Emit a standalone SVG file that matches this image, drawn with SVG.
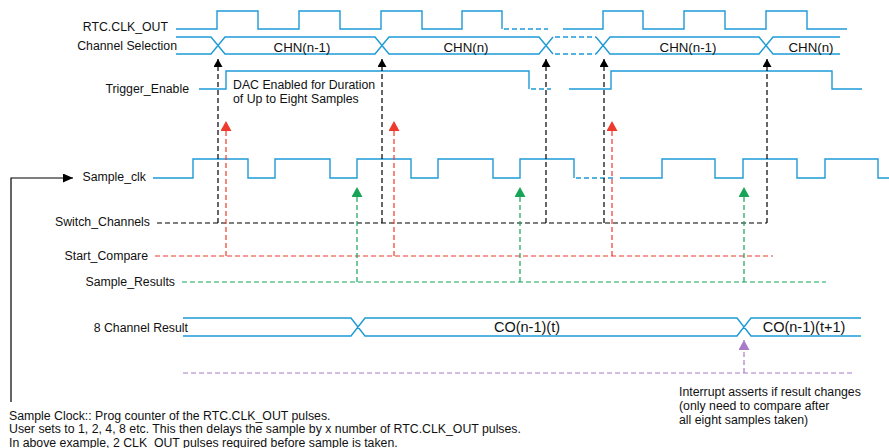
<svg xmlns="http://www.w3.org/2000/svg" width="889" height="448" viewBox="0 0 889 448">
<style>
text{font-family:"Liberation Sans",Arial,Helvetica,sans-serif;font-size:12.3px;fill:#111}
.lbl{text-anchor:end}
.mid{text-anchor:middle}
.chn{font-size:13.3px}
.co{font-size:14.5px}
.sig{fill:none;stroke:#1d9ad6;stroke-width:1.4}
.sigd{fill:none;stroke:#1d9ad6;stroke-width:1.4;stroke-dasharray:5 3}
.blk{fill:none;stroke:#000;stroke-width:1.2;stroke-dasharray:5 3}
.red{fill:none;stroke:#ee3a2c;stroke-width:1.2;stroke-dasharray:5 3}
.grn{fill:none;stroke:#16a557;stroke-width:1.2;stroke-dasharray:5 3}
.pur{fill:none;stroke:#a77cc9;stroke-width:1.2;stroke-dasharray:5 3}
</style>
<defs>
<marker id="aBlk" viewBox="0 0 8 9" markerUnits="userSpaceOnUse" markerWidth="8" markerHeight="9" refX="8" refY="4.5" orient="auto"><path d="M0,0 L8,4.5 L0,9 z" fill="#000"/></marker>
<marker id="aBlkS" viewBox="0 0 10 9" markerUnits="userSpaceOnUse" markerWidth="10" markerHeight="9" refX="10" refY="4.5" orient="auto"><path d="M0,0 L10,4.5 L0,9 z" fill="#000"/></marker>
<marker id="aRed" viewBox="0 0 10 11" markerUnits="userSpaceOnUse" markerWidth="10" markerHeight="11" refX="10" refY="5.5" orient="auto"><path d="M0,0 L10,5.5 L0,11 z" fill="#ee3a2c"/></marker>
<marker id="aGrn" viewBox="0 0 10 11" markerUnits="userSpaceOnUse" markerWidth="10" markerHeight="11" refX="10" refY="5.5" orient="auto"><path d="M0,0 L10,5.5 L0,11 z" fill="#16a557"/></marker>
<marker id="aPur" viewBox="0 0 10 11" markerUnits="userSpaceOnUse" markerWidth="10" markerHeight="11" refX="10" refY="5.5" orient="auto"><path d="M0,0 L10,5.5 L0,11 z" fill="#a77cc9"/></marker>
</defs>

<g id="rtc-clk-out">
<text class="lbl" x="168" y="30.5">RTC.CLK_OUT</text>
<path class="sig" d="M176,29 H217 V11 H258 V29 H299 V11 H340 V29 H381 V11 H422 V29 H462 V11 H502 V29"/>
<path class="sigd" d="M504,29 H548"/>
<path class="sig" d="M563,29 H603 V11 H643 V29 H684 V11 H725 V29 H766 V11 H807 V29 H847"/>
</g>

<g id="channel-selection">
<text class="lbl" x="177" y="50">Channel Selection</text>
<path class="sig" d="M176,37 H211 L225,54 H375 L389,37 H539 L553,54 M176,54 H211 L225,37 H375 L389,54 H539 L553,37"/>
<path class="sigd" d="M555,37 H596 M555,54 H596"/>
<path class="sig" d="M596,37 L610,54 H759 L773,37 H840 M596,54 L610,37 H759 L773,54 H840"/>
<text class="mid chn" x="302" y="51.5">CHN(n-1)</text>
<text class="mid chn" x="466" y="51.5">CHN(n)</text>
<text class="mid chn" x="688" y="51.5">CHN(n-1)</text>
<text class="mid chn" x="811" y="51.5">CHN(n)</text>
</g>

<g id="trigger-enable">
<text class="lbl" x="189" y="93">Trigger_Enable</text>
<path class="sig" d="M199,89 H226 V71 H529 V89"/>
<path class="sigd" d="M531,89 H551"/>
<path class="sig" d="M569,89 H611 V71 H832 V89 H862"/>
<text x="233" y="89">DAC Enabled for Duration</text>
<text x="233" y="103">of Up to Eight Samples</text>
</g>

<g id="sample-clk">
<text class="lbl" x="146" y="181">Sample_clk</text>
<path class="sig" d="M153,178 H193 V159 H248 V178 H275 V159 H330 V178 H357 V159 H411 V178 H438 V159 H493 V178 H520 V159 H574 V178"/>
<path class="sigd" d="M576,178 H615"/>
<path class="sig" d="M620,178 H662 V159 H715 V178 H743 V159 H797 V178 H825 V159 H878 V178 H889"/>
</g>

<g id="switch-channels">
<text class="lbl" x="150" y="226">Switch_Channels</text>
</g>
<g id="start-compare">
<text class="lbl" x="148" y="260">Start_Compare</text>
</g>
<g id="sample-results">
<text class="lbl" x="175" y="285.5">Sample_Results</text>
</g>

<g id="channel-result">
<text class="lbl" x="188" y="332">8 Channel Result</text>
<path class="sig" d="M183,318 H351 L365,336 H737 L751,318 H861 M183,336 H351 L365,318 H737 L751,336 H861"/>
<text class="mid co" x="527" y="332">CO(n-1)(t)</text>
<text class="mid co" x="804" y="332">CO(n-1)(t+1)</text>
</g>

<g id="interrupt-note">
<text x="679" y="395.5">Interrupt asserts if result changes</text>
<text x="679" y="409.5">(only need to compare after</text>
<text x="679" y="423.5">all eight samples taken)</text>
</g>

<g id="sample-clock-note">
<text x="9" y="419.5">Sample Clock:: Prog counter of the RTC.CLK_OUT pulses.</text>
<text x="9" y="433">User sets to 1, 2, 4, 8 etc. This then delays the sample by x number of RTC.CLK_OUT pulses.</text>
<text x="9" y="446.5">In above example, 2 CLK_OUT pulses required before sample is taken.</text>
</g>

<g id="connectors">
<path class="blk" d="M157,223 H767"/>
<path class="blk" marker-end="url(#aBlk)" d="M218,223 V59"/>
<path class="blk" marker-end="url(#aBlk)" d="M382,223 V59"/>
<path class="blk" marker-end="url(#aBlk)" d="M546,223 V59"/>
<path class="blk" marker-end="url(#aBlk)" d="M604,223 V59"/>
<path class="blk" marker-end="url(#aBlk)" d="M767,223 V59"/>
<path class="red" d="M155,256 H773"/>
<path class="red" marker-end="url(#aRed)" d="M226,256 V121"/>
<path class="red" marker-end="url(#aRed)" d="M394,256 V121"/>
<path class="red" marker-end="url(#aRed)" d="M612,256 V121"/>
<path class="grn" d="M182,282 H826"/>
<path class="grn" marker-end="url(#aGrn)" d="M357,282 V187"/>
<path class="grn" marker-end="url(#aGrn)" d="M520,282 V187"/>
<path class="grn" marker-end="url(#aGrn)" d="M744,282 V187"/>
<path class="pur" d="M183,373 H853"/>
<path class="pur" marker-end="url(#aPur)" d="M744,373 V340"/>
<path fill="none" stroke="#000" stroke-width="1.2" marker-end="url(#aBlkS)" d="M11,402 V178 H73"/>
</g>
</svg>
